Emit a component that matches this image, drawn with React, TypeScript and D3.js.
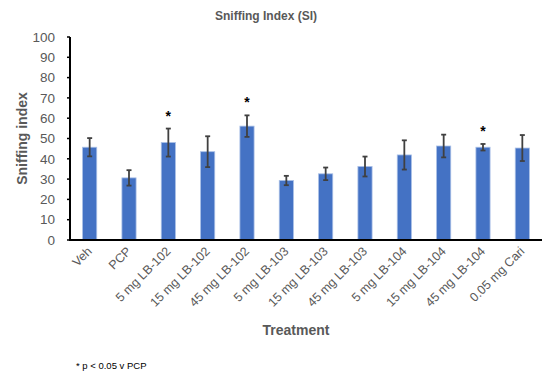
import React from 'react'
import * as d3 from 'd3'

const treatments = [
  'Veh',
  'PCP',
  '5 mg LB-102',
  '15 mg LB-102',
  '45 mg LB-102',
  '5 mg LB-103',
  '15 mg LB-103',
  '45 mg LB-103',
  '5 mg LB-104',
  '15 mg LB-104',
  '45 mg LB-104',
  '0.05 mg Cari'
]
const means = [45.7, 30.6, 48, 43.5, 56.1, 29.3, 32.6, 36.2, 41.9, 46.3, 45.7, 45.3]
const errors = [4.5, 3.8, 6.9, 7.6, 5.3, 2.3, 3.1, 4.9, 7.2, 5.6, 1.6, 6.4]
const significant = ['5 mg LB-102', '45 mg LB-102', '45 mg LB-104']
const yTicks = [0, 10, 20, 30, 40, 50, 60, 70, 80, 90, 100]

const W = 542
const H = 374
const margin = { left: 70, right: 0, top: 37, bottom: 134 }
const font = '"Liberation Sans", Arial, sans-serif'
const gray = '#595959'

export default function App() {
  const x = d3
    .scaleBand<string>()
    .domain(treatments)
    .range([margin.left, W - margin.right])
    .paddingInner(0.64)
    .paddingOuter(0.32)

  const y = d3
    .scaleLinear()
    .domain([0, 100])
    .range([H - margin.bottom, margin.top])

  const y0 = y(0)

  return (
    <svg
      width={W}
      height={H}
      style={{ position: 'absolute', left: 0, top: 0, fontFamily: font }}
    >
      <rect width={W} height={H} fill="#fff" />
      {/* title */}
      <text x={266} y={20} textAnchor="middle" fontSize={12} fontWeight="bold" fill={gray}>
        Sniffing Index (SI)
      </text>

      {/* bars */}
      {treatments.map((t, i) => (
        <rect
          key={t}
          x={x(t)}
          y={y(means[i])}
          width={x.bandwidth()}
          height={y0 - y(means[i])}
          fill="#4472C4"
          stroke="#a9bfe6"
          strokeWidth={0.8}
        />
      ))}

      {/* error bars */}
      {treatments.map((t, i) => {
        const cx = (x(t) as number) + x.bandwidth() / 2
        const top = y(means[i] + errors[i])
        const bot = y(means[i] - errors[i])
        return (
          <g key={'e' + t} stroke="#404040" strokeWidth={1.8}>
            <line x1={cx} x2={cx} y1={top} y2={bot} />
            <line x1={cx - 2.5} x2={cx + 2.5} y1={top} y2={top} />
            <line x1={cx - 2.5} x2={cx + 2.5} y1={bot} y2={bot} />
          </g>
        )
      })}

      {/* significance stars */}
      {treatments.map((t, i) =>
        significant.includes(t) ? (
          <text
            key={'s' + t}
            x={(x(t) as number) + x.bandwidth() / 2}
            y={y(means[i] + errors[i]) - 8}
            textAnchor="middle"
            fontSize={14}
            fontWeight="bold"
            fill="#000"
          >
            *
          </text>
        ) : null
      )}

      {/* y axis */}
      <line x1={margin.left} x2={margin.left} y1={y(100)} y2={y0 + 1} stroke="#000" strokeWidth={2} />
      {yTicks.map(v => (
        <g key={v}>
          <line x1={margin.left - 3} x2={margin.left} y1={y(v)} y2={y(v)} stroke="#000" strokeWidth={1.5} />
          <text
            x={margin.left - 15}
            y={y(v)}
            dy="0.35em"
            textAnchor="end"
            fontSize={13.5}
            fill={gray}
          >
            {v}
          </text>
        </g>
      ))}

      {/* x axis */}
      <line x1={margin.left - 1} x2={W} y1={y0} y2={y0} stroke="#000" strokeWidth={2} />
      {treatments.map(t => {
        const cx = (x(t) as number) + x.bandwidth() / 2
        return (
          <text
            key={'l' + t}
            transform={`translate(${cx + 3},${y0 + 12}) rotate(-45)`}
            textAnchor="end"
            fontSize={12.5}
            fill={gray}
          >
            {t}
          </text>
        )
      })}

      {/* axis titles */}
      <text
        transform={`translate(27,${(y(100) + y0) / 2}) rotate(-90)`}
        textAnchor="middle"
        fontSize={14}
        fontWeight="bold"
        fill={gray}
      >
        Sniffing index
      </text>
      <text x={296} y={335} textAnchor="middle" fontSize={14} fontWeight="bold" fill={gray}>
        Treatment
      </text>

      {/* footnote */}
      <text x={76} y={369} fontSize={9.5} fill="#000">
        * p &lt; 0.05 v PCP
      </text>
    </svg>
  )
}
